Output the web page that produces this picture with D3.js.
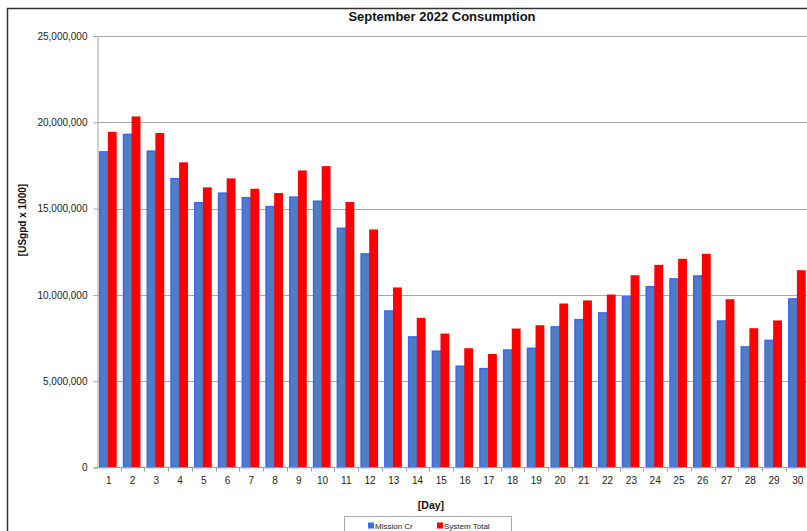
<!DOCTYPE html>
<html>
<head>
<meta charset="utf-8">
<script src="https://cdn.jsdelivr.net/npm/d3@7"></script>
<style>
  body { margin: 0; background: #fff; }
  svg { display: block; font-family: Arial, "Liberation Sans", sans-serif; }
</style>
</head>
<body>
<div class="viz"></div>
<script>
// data
const days = d3.range(1, 31)
const missionCr = [18330000, 19340000, 18370000, 16780000, 15380000, 15940000, 15670000, 15160000, 15710000, 15470000,
                   13900000, 12420000, 9110000, 7610000, 6780000, 5910000, 5770000, 6850000, 6950000, 8190000,
                   8610000, 9000000, 9930000, 10520000, 10970000, 11140000, 8530000, 7030000, 7410000, 9810000]
const systemTotal = [19450000, 20340000, 19380000, 17680000, 16230000, 16750000, 16150000, 15900000, 17210000, 17460000,
                     15380000, 13790000, 10430000, 8670000, 7760000, 6910000, 6580000, 8050000, 8240000, 9500000,
                     9680000, 10020000, 11140000, 11740000, 12090000, 12380000, 9750000, 8070000, 8520000, 11430000]
const seriesNames = ['Mission Cr', 'System Total']
const yTicks = [0, 5000000, 10000000, 15000000, 20000000, 25000000]

const width = 807, height = 531
const svg = d3.select('.viz').append('svg')
  .attr('width', width)
  .attr('height', height)

// outer frame
svg.append('rect')
  .attr('x', 7.5).attr('y', 8.5)
  .attr('width', width + 20).attr('height', height + 20)
  .attr('fill', 'none')
  .attr('stroke', '#333')
  .attr('stroke-width', 1.5)

const plotLeft = 97.5, plotBottom = 467.5, plotTop = 36
const x = d3.scaleBand().domain(days).range([96.8, 96.8 + 23.76 * 30])
const xInner = d3.scaleBand().domain(seriesNames).range([2.2, 19.9])
const y = d3.scaleLinear().domain([0, 25000000]).range([plotBottom, plotTop])

const data = days.map((d, i) => ({ day: d, values: [missionCr[i], systemTotal[i]] }))

// gridlines
svg.append('g').selectAll('line')
  .data(yTicks.slice(1)).enter().append('line')
  .attr('x1', plotLeft).attr('x2', width)
  .attr('y1', d => Math.round(y(d)) + 0.5).attr('y2', d => Math.round(y(d)) + 0.5)
  .attr('stroke', '#a8a8a8')

// bars
const groups = svg.append('g').selectAll('g')
  .data(data).enter().append('g')
  .attr('transform', d => `translate(${x(d.day)},0)`)

groups.append('rect')
  .attr('x', xInner('Mission Cr') + 0.75)
  .attr('y', d => y(d.values[0]) + 0.75)
  .attr('width', xInner.bandwidth())
  .attr('height', d => plotBottom - y(d.values[0]) - 0.75)
  .attr('fill', '#4f7dc4')
  .attr('stroke', '#3a66f2')
  .attr('stroke-width', 1.5)

groups.append('rect')
  .attr('x', xInner('System Total'))
  .attr('y', d => y(d.values[1]))
  .attr('width', xInner.bandwidth())
  .attr('height', d => plotBottom - y(d.values[1]))
  .attr('fill', '#ff0000')

// y axis
const yAxis = svg.append('g')
  .attr('transform', `translate(${plotLeft},0)`)
  .call(d3.axisLeft(y).tickValues(yTicks).tickSize(4).tickPadding(6).tickFormat(d3.format(',')))
yAxis.select('.domain').attr('stroke', '#a0a0a0')
yAxis.selectAll('.tick line').attr('stroke', '#a0a0a0')
yAxis.selectAll('text').attr('font-size', 10).attr('fill', '#222')
  .attr('font-family', 'Arial, "Liberation Sans", sans-serif')

// x axis
const xAxisG = svg.append('g').attr('transform', `translate(0,${plotBottom})`)
xAxisG.append('line')
  .attr('x1', plotLeft).attr('x2', width)
  .attr('stroke', '#a0a0a0')
xAxisG.selectAll('line.tk')
  .data(days.slice(1)).enter().append('line')
  .attr('class', 'tk')
  .attr('x1', d => Math.round(x(d)) + 0.5).attr('x2', d => Math.round(x(d)) + 0.5)
  .attr('y1', 0).attr('y2', 4)
  .attr('stroke', '#a0a0a0')
xAxisG.selectAll('text')
  .data(days).enter().append('text')
  .attr('x', d => x(d) + x.bandwidth() / 2)
  .attr('y', 16)
  .attr('text-anchor', 'middle')
  .attr('font-size', 10)
  .attr('fill', '#222')
  .text(d => d)

// titles
svg.append('text')
  .attr('x', 442).attr('y', 21)
  .attr('text-anchor', 'middle')
  .attr('font-size', 13).attr('font-weight', 'bold')
  .attr('fill', '#111')
  .text('September 2022 Consumption')

svg.append('text')
  .attr('x', 431).attr('y', 509)
  .attr('text-anchor', 'middle')
  .attr('font-size', 10.5).attr('font-weight', 'bold')
  .attr('fill', '#111')
  .text('[Day]')

svg.append('text')
  .attr('transform', 'translate(26,220) rotate(-90)')
  .attr('text-anchor', 'middle')
  .attr('font-size', 10).attr('font-weight', 'bold')
  .attr('fill', '#111')
  .text('[USgpd x 1000]')

// legend
const legend = svg.append('g')
legend.append('rect')
  .attr('x', 344.5).attr('y', 516.5)
  .attr('width', 167).attr('height', 30)
  .attr('fill', '#fff')
  .attr('stroke', '#aaa')

const legendColors = ['#3d6cf0', '#ff0000']
const legendX = [368, 437]
const items = legend.selectAll('g')
  .data(seriesNames).enter().append('g')
  .attr('transform', (d, i) => `translate(${legendX[i]},522.5)`)
items.append('rect')
  .attr('width', 6).attr('height', 6)
  .attr('fill', (d, i) => legendColors[i])
items.append('text')
  .attr('x', 7).attr('y', 6)
  .attr('font-size', 8)
  .attr('fill', '#222')
  .text(d => d)
</script>
</body>
</html>
